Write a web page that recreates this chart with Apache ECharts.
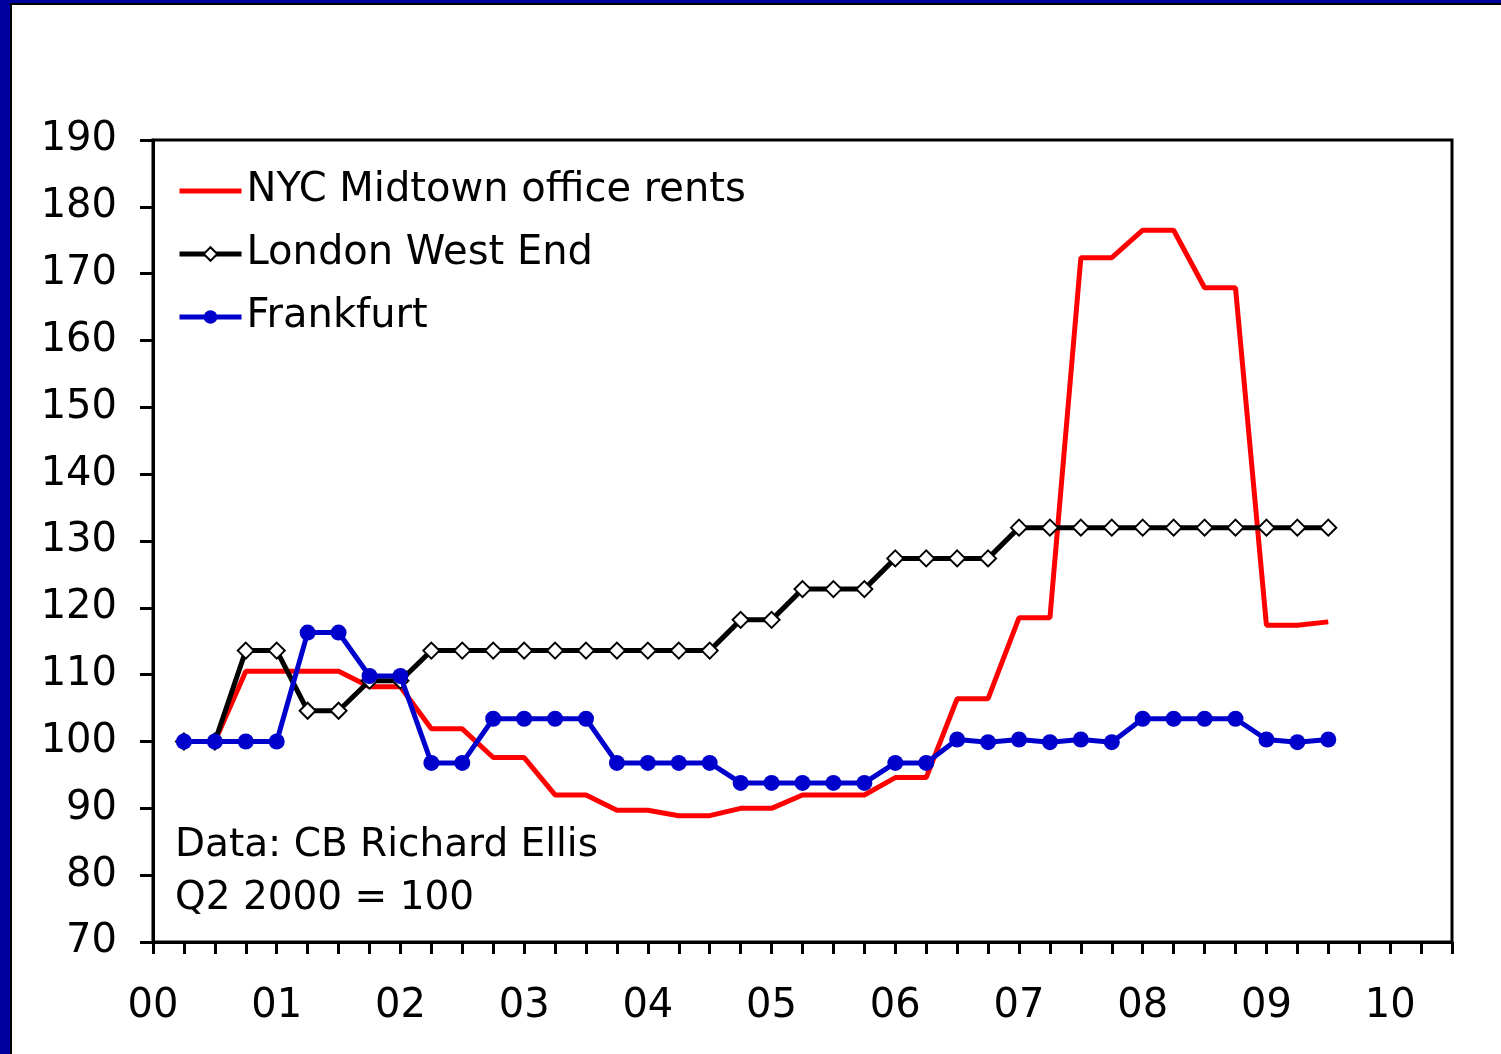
<!DOCTYPE html>
<html>
<head>
<meta charset="utf-8">
<script src="https://cdn.jsdelivr.net/npm/echarts@6/dist/echarts.min.js"></script>
<style>
  html, body { margin: 0; padding: 0; background: #00009c; }
  #frame { position: absolute; left: 10px; top: 3px; width: 1489px; height: 1049px; background: #fff;
           border-left: 2px solid #000; border-top: 2px solid #000; }
  #main { position: absolute; left: 0; top: 0; width: 1501px; height: 1054px; }
</style>
</head>
<body>
<div id="frame"></div>
<div id="main"></div>
<script>
  // quarter index, 0 = start of 2000 (Q2 2000 = 1)
  var quarters = [1, 2, 3, 4, 5, 6, 7, 8, 9, 10, 11, 12, 13, 14, 15, 16, 17, 18, 19,
                  20, 21, 22, 23, 24, 25, 26, 27, 28, 29, 30, 31, 32, 33, 34, 35, 36, 37, 38];
  var yearLabels = ['00', '01', '02', '03', '04', '05', '06', '07', '08', '09', '10'];

  var nycRents = [100, 100, 110.5, 110.5, 110.5, 110.5, 108.2, 108.2, 101.9, 101.9,
                  97.6, 97.6, 92, 92, 89.7, 89.7, 88.9, 88.9, 90, 90,
                  92, 92, 92, 94.6, 94.6, 106.4, 106.4, 118.5, 118.5, 172.4,
                  172.4, 176.5, 176.5, 167.9, 167.9, 117.4, 117.4, 117.9];
  var londonWestEnd = [100, 100, 113.6, 113.6, 104.6, 104.6, 109.1, 109.1, 113.6, 113.6,
                       113.6, 113.6, 113.6, 113.6, 113.6, 113.6, 113.6, 113.6, 118.2, 118.2,
                       122.8, 122.8, 122.8, 127.4, 127.4, 127.4, 127.4, 132, 132, 132,
                       132, 132, 132, 132, 132, 132, 132, 132];
  var frankfurt = [100, 100, 100, 100, 116.3, 116.3, 109.8, 109.8, 96.8, 96.8,
                   103.4, 103.4, 103.4, 103.4, 96.8, 96.8, 96.8, 96.8, 93.8, 93.8,
                   93.8, 93.8, 93.8, 96.8, 96.8, 100.3, 99.9, 100.3, 99.9, 100.3,
                   99.9, 103.4, 103.4, 103.4, 103.4, 100.3, 99.9, 100.3];

  var seriesNames = ['NYC Midtown office rents', 'London West End', 'Frankfurt'];

  function pairs(vals) {
    return quarters.map(function (q, i) { return [q, vals[i]]; });
  }

  var font = 'DejaVu Sans';
  var myChart = echarts.init(document.getElementById('main'));

  var option = {
    backgroundColor: 'transparent',
    animation: false,
    textStyle: { fontFamily: font },
    grid: {
      left: 153, top: 140, right: 49, bottom: 112,
      show: true, borderColor: '#000', borderWidth: 3, backgroundColor: 'transparent'
    },
    legend: {
      orient: 'vertical',
      left: 172,
      top: 166,
      itemWidth: 62,
      itemHeight: 17,
      itemGap: 23,
      textStyle: { fontSize: 40, color: '#000', fontFamily: font },
      data: [
        { name: seriesNames[0], itemStyle: { opacity: 0 }, lineStyle: { width: 5 } },
        { name: seriesNames[1], lineStyle: { width: 5 } },
        { name: seriesNames[2], lineStyle: { width: 5 } }
      ]
    },
    xAxis: {
      type: 'value',
      min: 0, max: 42, interval: 1,
      axisLine: { show: true, lineStyle: { color: '#000', width: 3 } },
      axisTick: { show: true, length: 12, lineStyle: { color: '#000', width: 3 } },
      splitLine: { show: false },
      axisLabel: {
        fontSize: 40, color: '#000', fontFamily: font, margin: 45,
        formatter: function (v) {
          return v % 4 === 0 ? yearLabels[v / 4] : '';
        }
      }
    },
    yAxis: {
      type: 'value',
      min: 70, max: 190, interval: 10,
      axisLine: { show: true, lineStyle: { color: '#000', width: 3 } },
      axisTick: { show: true, length: 13, lineStyle: { color: '#000', width: 3 } },
      splitLine: { show: false },
      axisLabel: { fontSize: 40, color: '#000', fontFamily: font, margin: 36 }
    },
    graphic: [{
      type: 'text',
      left: 175,
      top: 819,
      style: {
        text: 'Data: CB Richard Ellis\nQ2 2000 = 100',
        font: '39px "DejaVu Sans"',
        lineHeight: 53,
        fill: '#000'
      }
    }],
    series: [
      {
        name: seriesNames[0],
        type: 'line',
        data: pairs(nycRents),
        symbol: 'none',
        lineStyle: { color: '#ff0000', width: 5 },
        itemStyle: { color: '#ff0000' },
        z: 2
      },
      {
        name: seriesNames[1],
        type: 'line',
        data: pairs(londonWestEnd),
        symbol: 'emptyDiamond',
        symbolSize: 16,
        lineStyle: { color: '#000', width: 5 },
        itemStyle: { color: '#000', borderWidth: 2 },
        z: 3
      },
      {
        name: seriesNames[2],
        type: 'line',
        data: pairs(frankfurt),
        symbol: 'circle',
        symbolSize: 16,
        lineStyle: { color: '#0000cc', width: 5 },
        itemStyle: { color: '#0000cc' },
        z: 4
      }
    ]
  };
  myChart.setOption(option);
</script>
</body>
</html>
